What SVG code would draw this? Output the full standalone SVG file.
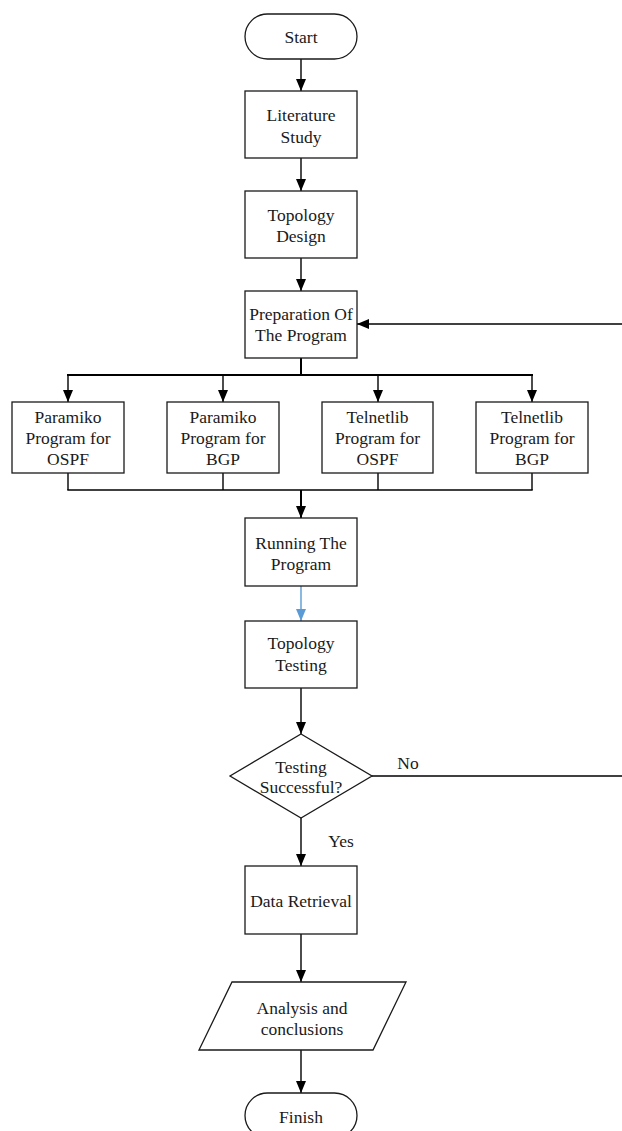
<svg xmlns="http://www.w3.org/2000/svg" width="622" height="1131" viewBox="0 0 622 1131">
<style>
.box{fill:#fff;stroke:#1a1a1a;stroke-width:1.3}
.t{font-family:"Liberation Serif","Times New Roman",serif;font-size:17.5px;fill:#1a1a1a;text-anchor:middle;dominant-baseline:central}
.c{fill:none;stroke:#000;stroke-width:1.4}
.thick{stroke-width:2}
.blue{fill:none;stroke:#5b9bd5;stroke-width:1.4}
</style>
<defs>
<marker id="ah" markerUnits="userSpaceOnUse" markerWidth="12" markerHeight="12" viewBox="0 0 12 12" refX="12" refY="6" orient="auto">
<path d="M0,1 L12,6 L0,11 Z" fill="#000"/>
</marker>
<marker id="ahb" markerUnits="userSpaceOnUse" markerWidth="12" markerHeight="12" viewBox="0 0 12 12" refX="12" refY="6" orient="auto">
<path d="M0,1 L12,6 L0,11 Z" fill="#5b9bd5"/>
</marker>
</defs>
<g id="connectors">
<line class="c" x1="301" y1="59" x2="301" y2="91" marker-end="url(#ah)"/>
<line class="c" x1="301" y1="158" x2="301" y2="191" marker-end="url(#ah)"/>
<line class="c" x1="301" y1="258" x2="301" y2="291" marker-end="url(#ah)"/>
<line class="c thick" x1="301" y1="358" x2="301" y2="375"/>
<line class="c thick" x1="67" y1="375" x2="533" y2="375"/>
<line class="c" x1="68" y1="375" x2="68" y2="402" marker-end="url(#ah)"/>
<line class="c" x1="223" y1="375" x2="223" y2="402" marker-end="url(#ah)"/>
<line class="c" x1="378" y1="375" x2="378" y2="402" marker-end="url(#ah)"/>
<line class="c" x1="532" y1="375" x2="532" y2="402" marker-end="url(#ah)"/>
<line class="c" x1="68" y1="473" x2="68" y2="490"/>
<line class="c" x1="223" y1="473" x2="223" y2="490"/>
<line class="c" x1="378" y1="473" x2="378" y2="490"/>
<line class="c" x1="532" y1="473" x2="532" y2="490"/>
<line class="c" x1="67.3" y1="490" x2="532.7" y2="490"/>
<line class="c thick" x1="301" y1="490" x2="301" y2="518" marker-end="url(#ah)"/>
<line class="blue" x1="301" y1="586" x2="301" y2="621" marker-end="url(#ahb)"/>
<line class="c" x1="301" y1="688" x2="301" y2="734" marker-end="url(#ah)"/>
<line class="c" x1="372" y1="776" x2="622" y2="776"/>
<text class="t" x="408" y="763">No</text>
<line class="c" x1="622" y1="324" x2="357" y2="324" marker-end="url(#ah)"/>
<line class="c" x1="301" y1="818" x2="301" y2="866" marker-end="url(#ah)"/>
<text class="t" x="341" y="841">Yes</text>
<line class="c" x1="301" y1="934" x2="301" y2="982" marker-end="url(#ah)"/>
<line class="c" x1="301" y1="1050" x2="301" y2="1093" marker-end="url(#ah)"/>
</g>
<g id="start">
<rect class="box" x="245" y="14" width="112" height="45" rx="22.5"/>
<text class="t" x="301" y="37">Start</text>
</g>
<g id="literature">
<rect class="box" x="245" y="91" width="112" height="67"/>
<text class="t" x="301" y="115">Literature</text>
<text class="t" x="301" y="137">Study</text>
</g>
<g id="topology-design">
<rect class="box" x="245" y="191" width="112" height="67"/>
<text class="t" x="301" y="215">Topology</text>
<text class="t" x="301" y="236">Design</text>
</g>
<g id="preparation">
<rect class="box" x="245" y="291" width="112" height="67"/>
<text class="t" x="301" y="314">Preparation Of</text>
<text class="t" x="301" y="335">The Program</text>
</g>
<g id="paramiko-ospf">
<rect class="box" x="12" y="402" width="112" height="71"/>
<text class="t" x="68" y="417">Paramiko</text>
<text class="t" x="68" y="438">Program for</text>
<text class="t" x="68" y="459">OSPF</text>
</g>
<g id="paramiko-bgp">
<rect class="box" x="167" y="402" width="112" height="71"/>
<text class="t" x="223" y="417">Paramiko</text>
<text class="t" x="223" y="438">Program for</text>
<text class="t" x="223" y="459">BGP</text>
</g>
<g id="telnetlib-ospf">
<rect class="box" x="322" y="402" width="111" height="71"/>
<text class="t" x="377.5" y="417">Telnetlib</text>
<text class="t" x="377.5" y="438">Program for</text>
<text class="t" x="377.5" y="459">OSPF</text>
</g>
<g id="telnetlib-bgp">
<rect class="box" x="476" y="402" width="112" height="71"/>
<text class="t" x="532" y="417">Telnetlib</text>
<text class="t" x="532" y="438">Program for</text>
<text class="t" x="532" y="459">BGP</text>
</g>
<g id="running">
<rect class="box" x="245" y="518" width="112" height="68"/>
<text class="t" x="301" y="543">Running The</text>
<text class="t" x="301" y="564">Program</text>
</g>
<g id="topology-testing">
<rect class="box" x="245" y="621" width="112" height="67"/>
<text class="t" x="301" y="643">Topology</text>
<text class="t" x="301" y="665">Testing</text>
</g>
<g id="decision">
<polygon class="box" points="301,734 372,776 301,818 230,776"/>
<text class="t" x="301" y="767">Testing</text>
<text class="t" x="301" y="787">Successful?</text>
</g>
<g id="data-retrieval">
<rect class="box" x="245" y="866" width="112" height="68"/>
<text class="t" x="301" y="901">Data Retrieval</text>
</g>
<g id="analysis">
<polygon class="box" points="232,982 406,982 373,1050 199,1050"/>
<text class="t" x="302" y="1008">Analysis and</text>
<text class="t" x="302" y="1029">conclusions</text>
</g>
<g id="finish">
<rect class="box" x="245" y="1093" width="112" height="45" rx="22.5"/>
<text class="t" x="301" y="1117">Finish</text>
</g>
</svg>
